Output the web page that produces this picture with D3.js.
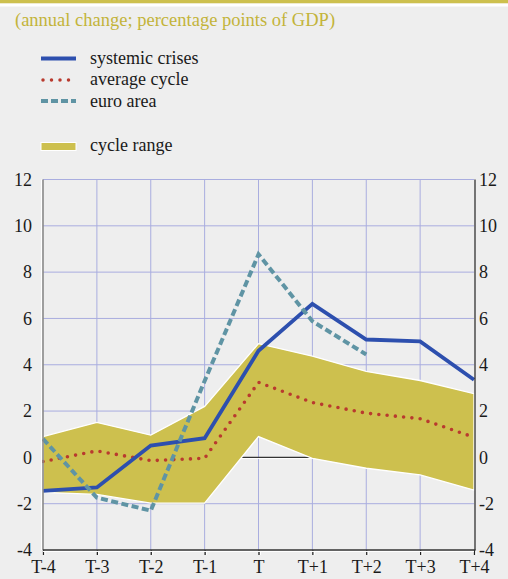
<!DOCTYPE html>
<html>
<head>
<meta charset="utf-8">
<script src="https://cdn.jsdelivr.net/npm/d3@7"></script>
<style>
  body { margin: 0; background: #eeeeee; }
  svg { display: block; }
</style>
</head>
<body>
<svg id="chart" width="508" height="579"></svg>
<script>
const periods = ['T-4', 'T-3', 'T-2', 'T-1', 'T', 'T+1', 'T+2', 'T+3', 'T+4'];
const systemicCrises = [-1.45, -1.3, 0.51, 0.83, 4.6, 6.63, 5.09, 5.01, 3.35];
const averageCycle = [-0.18, 0.28, -0.14, -0.04, 3.24, 2.37, 1.91, 1.67, 0.87];
const euroArea = [0.8, -1.74, -2.3, 3.3, 8.77, 5.88, 4.44];   // T-4 .. T+2 only
const rangeHigh = [0.9, 1.51, 0.96, 2.2, 4.91, 4.37, 3.71, 3.32, 2.75];
const rangeLow = [-1.51, -1.6, -1.98, -1.98, 0.9, -0.04, -0.47, -0.76, -1.41];
const yTicks = [-4, -2, 0, 2, 4, 6, 8, 10, 12];
const legendLabels = ['systemic crises', 'average cycle', 'euro area', 'cycle range'];

const FONT = '"Liberation Serif", "Times New Roman", serif';
const GOLD = '#cdc04e';
const BLUE = '#2d4fae';
const RED = '#b93a2e';
const TEAL = '#5f94a4';
const GRID = '#a9addf';

let svg = d3.select('#chart');

let x = d3.scalePoint().domain(periods).range([43, 474]);
let y = d3.scaleLinear().domain([-4, 12]).range([550, 179.5]);

// header bar
svg.append('rect').attr('x', 0).attr('y', 0).attr('width', 508).attr('height', 3.5).attr('fill', GOLD);
svg.append('rect').attr('x', 0).attr('y', 3.5).attr('width', 508).attr('height', 3).attr('fill', '#ffffff');

svg.append('text')
    .attr('x', 15).attr('y', 26)
    .attr('font-family', FONT)
    .attr('font-size', 18.5)
    .attr('fill', '#c3b43a')
    .text('(annual change; percentage points of GDP)');

// legend
let legendY = [58.5, 80, 101, 146.5];
let legendTextY = [64, 85, 106.5, 150.5];
let legendStyle = [
    {stroke: BLUE, width: 4, dash: null, cap: 'butt'},
    {stroke: RED, width: 3.5, dash: '0,8.5', cap: 'round'},
    {stroke: TEAL, width: 4, dash: '7,3', cap: 'butt'}
];
legendStyle.forEach((s, i) => {
    svg.append('line')
        .attr('x1', i === 1 ? 43 : 41).attr('x2', 76)
        .attr('y1', legendY[i]).attr('y2', legendY[i])
        .attr('stroke', s.stroke)
        .attr('stroke-width', s.width)
        .attr('stroke-dasharray', s.dash)
        .attr('stroke-linecap', s.cap);
});
svg.append('rect')
    .attr('x', 41).attr('y', legendY[3] - 4).attr('width', 35).attr('height', 8)
    .attr('fill', GOLD).attr('stroke', '#ffffff').attr('stroke-width', 1);
legendLabels.forEach((label, i) => {
    svg.append('text')
        .attr('x', 90).attr('y', legendTextY[i])
        .attr('font-family', FONT)
        .attr('font-size', 18)
        .attr('fill', '#1a1a1a')
        .text(label);
});

// grid
let grid = svg.append('g');
yTicks.filter(v => v !== -4 && v !== 0).forEach(v => {
    grid.append('line')
        .attr('x1', x('T-4')).attr('x2', x('T+4'))
        .attr('y1', y(v)).attr('y2', y(v))
        .attr('stroke', GRID).attr('stroke-width', 1);
});
periods.slice(1, -1).forEach(p => {
    grid.append('line')
        .attr('x1', x(p)).attr('x2', x(p))
        .attr('y1', y(12)).attr('y2', y(-4))
        .attr('stroke', GRID).attr('stroke-width', 1);
});

// zero line
svg.append('line')
    .attr('x1', x('T-4')).attr('x2', x('T+4'))
    .attr('y1', y(0) + 1.2).attr('y2', y(0) + 1.2)
    .attr('stroke', '#ffffff').attr('stroke-width', 1);
svg.append('line')
    .attr('x1', x('T-4')).attr('x2', x('T+4'))
    .attr('y1', y(0)).attr('y2', y(0))
    .attr('stroke', '#333333').attr('stroke-width', 1.3);

// cycle range band
let band = d3.area()
    .x((d, i) => x(periods[i]))
    .y0((d, i) => y(rangeLow[i]))
    .y1((d, i) => y(rangeHigh[i]));
svg.append('path')
    .datum(rangeHigh)
    .attr('d', band)
    .attr('fill', GOLD)
    .attr('stroke', '#ffffff')
    .attr('stroke-width', 1.3);

let line = d3.line().x((d, i) => x(periods[i])).y(d => y(d));

svg.append('path')
    .datum(averageCycle)
    .attr('d', line)
    .attr('fill', 'none')
    .attr('stroke', RED)
    .attr('stroke-width', 3.6)
    .attr('stroke-linecap', 'round')
    .attr('stroke-dasharray', '0,8.3');

svg.append('path')
    .datum(systemicCrises)
    .attr('d', line)
    .attr('fill', 'none')
    .attr('stroke', BLUE)
    .attr('stroke-width', 3.8)
    .attr('stroke-linejoin', 'miter');

svg.append('path')
    .datum(euroArea)
    .attr('d', line)
    .attr('fill', 'none')
    .attr('stroke', TEAL)
    .attr('stroke-width', 4)
    .attr('stroke-dasharray', '7,3.5');

// axes (hyphen minus like the original, not d3's unicode minus)
let fmt = d => String(d);
let leftAxis = svg.append('g')
    .attr('transform', `translate(${x('T-4')},0)`)
    .call(d3.axisLeft(y).tickValues(yTicks).tickFormat(fmt).tickSize(0).tickPadding(11));
let rightAxis = svg.append('g')
    .attr('transform', `translate(${x('T+4')},0)`)
    .call(d3.axisRight(y).tickValues(yTicks).tickFormat(fmt).tickSize(0).tickPadding(5));
let bottomAxis = svg.append('g')
    .attr('transform', `translate(0,${y(-4)})`)
    .call(d3.axisBottom(x).tickSize(5).tickPadding(5));

[leftAxis, rightAxis, bottomAxis].forEach(g => {
    g.attr('font-family', FONT).attr('font-size', 18);
    g.select('.domain').remove();
    g.selectAll('text')
        .attr('font-family', FONT)
        .attr('font-size', 18)
        .attr('fill', '#1a1a1a');
});
bottomAxis.selectAll('.tick line').attr('stroke', '#222222').attr('stroke-width', 1.3);
bottomAxis.selectAll('.tick').append('line')
    .attr('x1', 1.5).attr('x2', 1.5).attr('y1', 1).attr('y2', 5)
    .attr('stroke', '#ffffff').attr('stroke-width', 1);

// axis lines
svg.append('line')
    .attr('x1', x('T-4') - 1.5).attr('x2', x('T-4') - 1.5)
    .attr('y1', y(12)).attr('y2', y(-4))
    .attr('stroke', '#ffffff').attr('stroke-width', 1);
svg.append('line')
    .attr('x1', x('T-4')).attr('x2', x('T-4'))
    .attr('y1', y(12)).attr('y2', y(-4))
    .attr('stroke', '#8a8a8a').attr('stroke-width', 1.6);
svg.append('line')
    .attr('x1', x('T+4') + 1).attr('x2', x('T+4') + 1)
    .attr('y1', y(12)).attr('y2', y(-4))
    .attr('stroke', '#222222').attr('stroke-width', 1.2);
svg.append('line')
    .attr('x1', x('T-4')).attr('x2', x('T+4'))
    .attr('y1', y(-4) + 1.3).attr('y2', y(-4) + 1.3)
    .attr('stroke', '#ffffff').attr('stroke-width', 1.2);
svg.append('line')
    .attr('x1', x('T-4')).attr('x2', x('T+4') + 1.5)
    .attr('y1', y(-4)).attr('y2', y(-4))
    .attr('stroke', '#333333').attr('stroke-width', 1.3);
</script>
</body>
</html>
